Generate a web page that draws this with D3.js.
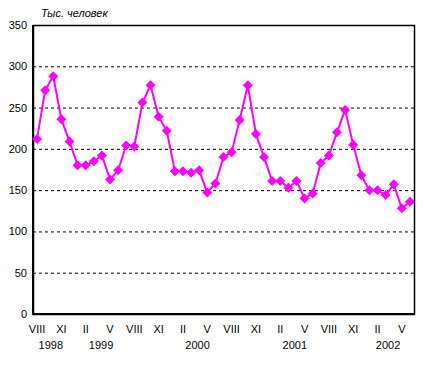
<!DOCTYPE html>
<html>
<head>
<meta charset="utf-8">
<script src="https://cdn.jsdelivr.net/npm/d3@7"></script>
<style>
body { margin: 0; background: #fff; }
text { font-family: "Liberation Sans", Arial, sans-serif; }
</style>
</head>
<body>
<svg></svg>
<script>
// months Aug 1998 .. Jun 2002
var months = ["VIII","IX","X","XI","XII",
  "I","II","III","IV","V","VI","VII","VIII","IX","X","XI","XII",
  "I","II","III","IV","V","VI","VII","VIII","IX","X","XI","XII",
  "I","II","III","IV","V","VI","VII","VIII","IX","X","XI","XII",
  "I","II","III","IV","V","VI"];
var values = [212,271,288,236,209,
  180,180,185,192,163,174,204,203,256,277,239,222,
  173,173,171,174,147,158,190,196,235,277,218,190,
  161,161,153,161,140,146,183,192,220,247,205,168,
  150,150,144,157,128,136];
var years = ["1998","1999","2000","2001","2002"];
var yearPos = [1.7, 7.9, 19.8, 31.8, 43.3];
var yTicks = [0,50,100,150,200,250,300,350];

var screen = {width: 429, height: 366};
var margins = {top: 25, right: 15, bottom: 52, left: 33};
var width = screen.width - margins.left - margins.right;
var height = screen.height - margins.top - margins.bottom;

var svg = d3.select("svg")
  .attr("width", screen.width)
  .attr("height", screen.height);

var g = svg.append("g")
  .attr("transform", "translate(" + margins.left + "," + margins.top + ")");

var idx = d3.range(values.length);
var xScale = d3.scaleBand().domain(idx).range([0, width]);
var yScale = d3.scaleLinear().domain([0, 350]).range([height, 0]);
var cx = function(i) { return xScale(i) + xScale.bandwidth() / 2; };
var fx = d3.scaleLinear().domain([0, values.length - 1]).range([cx(0), cx(values.length - 1)]);

// grid
g.selectAll(".grid")
  .data(yTicks.filter(function(d) { return d > 0 && d < 350; }))
  .enter().append("line")
  .attr("x1", 0).attr("x2", width)
  .attr("y1", function(d) { return yScale(d) + 0.5; })
  .attr("y2", function(d) { return yScale(d) + 0.5; })
  .attr("stroke", "#000")
  .attr("stroke-dasharray", "3,3");

// frame
g.append("rect")
  .attr("x", 0.5).attr("y", 0.5)
  .attr("width", width).attr("height", height)
  .attr("fill", "none").attr("stroke", "#000").attr("stroke-width", 1.5);
g.append("line")
  .attr("x1", 0).attr("x2", 0).attr("y1", 0).attr("y2", height + 1)
  .attr("stroke", "#000").attr("stroke-width", 2);
g.append("line")
  .attr("x1", 0).attr("x2", width + 1).attr("y1", height).attr("y2", height)
  .attr("stroke", "#000").attr("stroke-width", 2);

// y axis labels
var yAxis = d3.axisLeft(yScale).tickValues(yTicks).tickSize(0).tickPadding(6);
var ya = g.append("g").call(yAxis);
ya.select(".domain").remove();
ya.selectAll("text").attr("font-size", 11).attr("fill", "#000")
  .style("font-family", "'Liberation Sans', Arial, sans-serif");

// x axis labels
var xAxis = d3.axisBottom(xScale)
  .tickValues(idx.filter(function(i) { return i % 3 === 0; }))
  .tickFormat(function(i) { return months[i]; })
  .tickSize(0).tickPadding(11);
var xa = g.append("g").attr("transform", "translate(0," + height + ")").call(xAxis);
xa.select(".domain").remove();
xa.selectAll("text").attr("font-size", 11).attr("fill", "#000")
  .style("font-family", "'Liberation Sans', Arial, sans-serif");

g.selectAll(".year")
  .data(years)
  .enter().append("text")
  .attr("x", function(d, i) { return fx(yearPos[i]); })
  .attr("y", height + 35)
  .attr("text-anchor", "middle")
  .attr("font-size", 11)
  .text(function(d) { return d; });

// line
var line = d3.line()
  .x(function(d, i) { return cx(i); })
  .y(function(d) { return yScale(d); });
g.append("path")
  .datum(values)
  .attr("d", line)
  .attr("fill", "none")
  .attr("stroke", "#ff00ff")
  .attr("stroke-width", 2);

g.selectAll(".pt")
  .data(values)
  .enter().append("path")
  .attr("transform", function(d, i) { return "translate(" + cx(i) + "," + yScale(d) + ")"; })
  .attr("d", "M0,-5L5,0L0,5L-5,0Z")
  .attr("fill", "#ff00ff");

svg.append("text")
  .attr("x", 41).attr("y", 17)
  .attr("font-size", 11)
  .attr("font-style", "italic")
  .text("Тыс. человек");
</script>
</body>
</html>
